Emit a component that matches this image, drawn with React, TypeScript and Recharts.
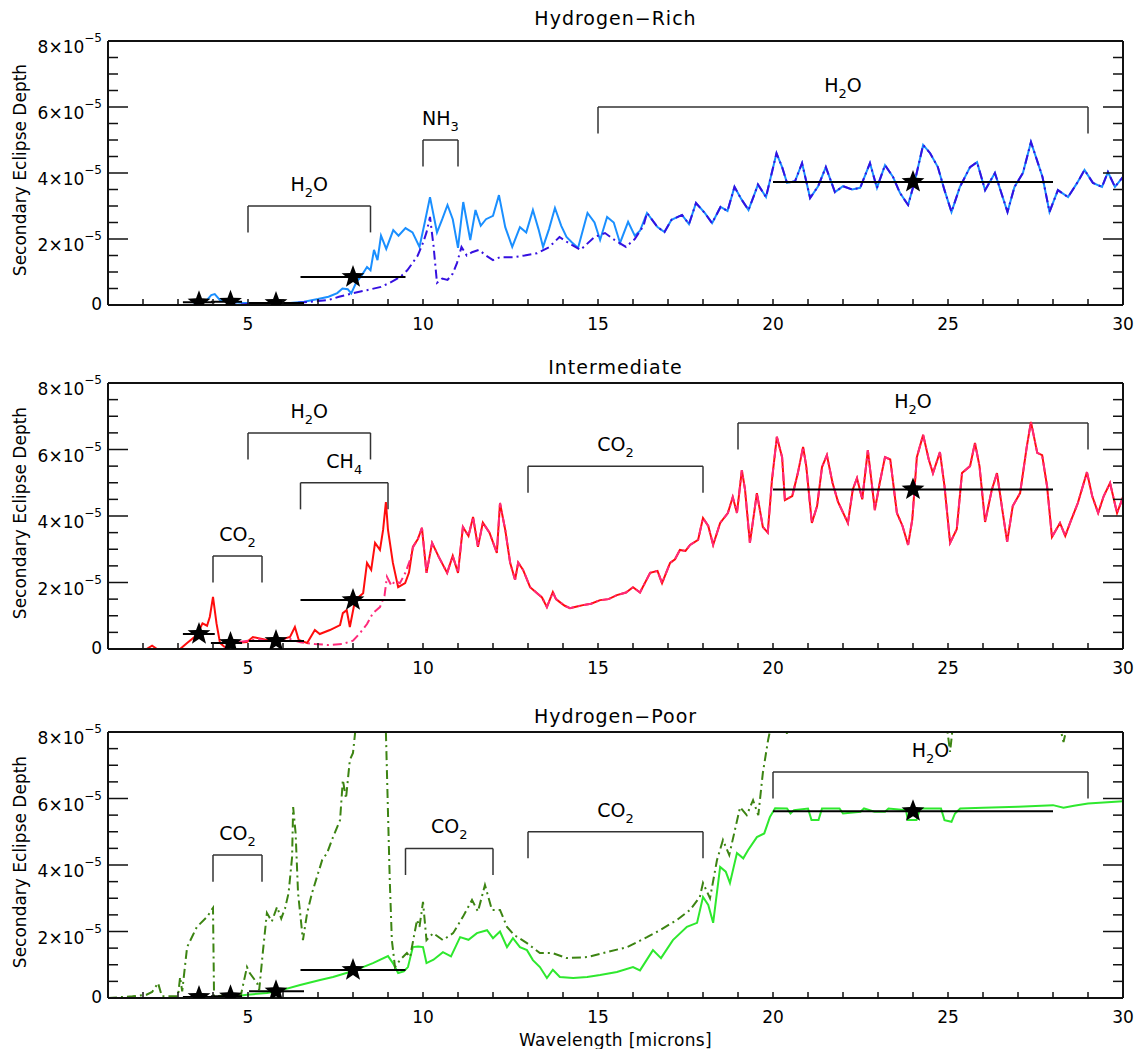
import { ComposedChart, Line, XAxis, YAxis, Scatter, ErrorBar, ReferenceLine } from "recharts";

type Pt = [number, number];
type Band = { name: string; x1: number; x2: number; top: number; bottom: number };

// depths are in units of 1e-5, wavelengths in microns

const richSolid: Pt[] = [
  [1, 0], [3.4, 0], [3.6, 0.04], [3.8, 0.12], [3.95, 0.3], [4.05, 0.33], [4.2, 0.15], [4.4, 0.1], [4.8, 0.07],
  [5.3, 0.05], [5.8, 0.04], [6.2, 0.06], [6.6, 0.1], [7.0, 0.18], [7.3, 0.25], [7.55, 0.36], [7.7, 0.5], [7.85, 0.48],
  [7.95, 0.35], [8.1, 0.7], [8.25, 0.9], [8.4, 1.15], [8.5, 1.05], [8.6, 1.67], [8.7, 1.36], [8.8, 2.1], [8.95, 1.7],
  [9.15, 2.27], [9.3, 2.1], [9.5, 2.33], [9.7, 2.2], [9.9, 1.76], [10.05, 2.5], [10.2, 3.27], [10.4, 2.2], [10.55, 2.6],
  [10.7, 3.03], [10.85, 2.6], [11.0, 1.73], [11.15, 3.12], [11.35, 1.97], [11.5, 2.88], [11.65, 2.4], [11.8, 2.6],
  [12.0, 2.7], [12.17, 3.33], [12.35, 2.36], [12.55, 1.76], [12.77, 2.36], [12.95, 2.2], [13.14, 2.88], [13.3, 2.3],
  [13.43, 1.76], [13.6, 2.3], [13.77, 2.94], [13.95, 2.4], [14.1, 2.06], [14.25, 1.9], [14.43, 1.73], [14.7, 2.79],
  [14.9, 2.5], [15.06, 1.97], [15.26, 2.67], [15.45, 2.5], [15.63, 1.88], [15.86, 2.52], [16.05, 2.1], [16.2, 2.25],
  [16.4, 2.79], [16.7, 2.36], [16.9, 2.21], [17.1, 2.58], [17.4, 2.73], [17.6, 2.45], [17.8, 3.09], [18.05, 2.79],
  [18.26, 2.48], [18.5, 2.97], [18.7, 2.85], [18.9, 3.58], [19.1, 3.2], [19.3, 2.88], [19.45, 3.3], [19.57, 3.65],
  [19.8, 3.27], [20.1, 4.6], [20.26, 4.18], [20.4, 3.7], [20.63, 3.75], [20.83, 4.3], [21.06, 3.24], [21.29, 3.6],
  [21.51, 4.18], [21.77, 3.42], [22.0, 3.6], [22.26, 3.5], [22.49, 3.55], [22.77, 4.3], [22.97, 3.55], [23.2, 4.24],
  [23.43, 3.88], [23.63, 3.39], [23.86, 3.03], [24.06, 3.79], [24.29, 4.85], [24.49, 4.6], [24.71, 4.18], [24.9, 3.48],
  [25.1, 2.82], [25.34, 3.58], [25.63, 4.18], [25.83, 4.33], [26.06, 3.48], [26.34, 4.0], [26.7, 2.82], [26.9, 3.58],
  [27.14, 4.0], [27.37, 4.94], [27.57, 4.3], [27.7, 3.88], [27.9, 2.82], [28.14, 3.48], [28.43, 3.27], [28.69, 3.7],
  [28.9, 4.09], [29.14, 3.7], [29.4, 3.58], [29.57, 4.03], [29.77, 3.58], [30, 3.88],
];

// dash-dot model where it departs from the solid one; after that both coincide
const richDashOwn: Pt[] = [
  [1, 0], [4.5, 0], [5.0, 0.03], [5.8, 0.04], [6.3, 0.06], [6.6, 0.08], [7.0, 0.12], [7.3, 0.15], [7.6, 0.25],
  [8.0, 0.36], [8.4, 0.45], [8.8, 0.55], [9.1, 0.7], [9.35, 0.85], [9.55, 1.05], [9.7, 1.27], [9.85, 1.5], [10.0, 1.88],
  [10.1, 2.2], [10.2, 2.67], [10.3, 1.8], [10.4, 0.67], [10.55, 0.8], [10.7, 0.76], [10.85, 0.95], [10.97, 1.27],
  [11.1, 1.76], [11.25, 1.5], [11.4, 1.6], [11.6, 1.67], [11.8, 1.5], [12.0, 1.36], [12.2, 1.45], [12.43, 1.45],
  [12.6, 1.45], [12.9, 1.5], [13.26, 1.57], [13.6, 1.75], [13.9, 2.06], [14.2, 1.85], [14.5, 1.67], [14.9, 2.06],
  [15.2, 2.18], [15.5, 1.95], [15.8, 1.76], [16.05, 2.0], [16.3, 2.4],
];

const interSolid: Pt[] = [
  [1, 0], [2.1, 0], [2.26, 0.1], [2.4, 0], [3.06, 0], [3.26, 0.18], [3.54, 0.42], [3.7, 0.77], [3.83, 0.7], [3.91, 0.97],
  [4.0, 1.57], [4.1, 0.77], [4.2, 0.18], [4.4, 0.0], [4.6, 0.18], [4.97, 0.21], [5.14, 0.36], [5.54, 0.27], [5.9, 0.27],
  [6.2, 0.36], [6.34, 0.66], [6.45, 0.27], [6.69, 0.18], [6.91, 0.57], [7.05, 0.45], [7.34, 0.57], [7.63, 0.72],
  [7.71, 1.08], [7.82, 1.17], [7.91, 0.66], [8.06, 1.47], [8.29, 1.68], [8.4, 2.59], [8.52, 2.38], [8.63, 3.19],
  [8.77, 2.98], [8.86, 3.58], [8.94, 4.42], [9.0, 3.58], [9.14, 2.59], [9.29, 1.86], [9.49, 1.98], [9.6, 2.3],
  [9.71, 3.07], [9.85, 3.3], [9.97, 3.64], [10.1, 2.29], [10.26, 3.19], [10.45, 2.77], [10.69, 2.29], [10.85, 2.8],
  [11.0, 2.29], [11.14, 3.67], [11.3, 3.4], [11.43, 3.97], [11.57, 3.07], [11.71, 3.8], [11.9, 3.5], [12.11, 2.89],
  [12.2, 4.39], [12.35, 3.58], [12.49, 2.59], [12.63, 2.08], [12.72, 2.6], [12.86, 2.38], [13.06, 1.86], [13.26, 1.68],
  [13.4, 1.55], [13.54, 1.26], [13.71, 1.71], [13.8, 1.5], [13.91, 1.41], [14.05, 1.3], [14.2, 1.23], [14.4, 1.28],
  [14.57, 1.32], [14.8, 1.36], [15.06, 1.47], [15.3, 1.5], [15.54, 1.62], [15.8, 1.7], [16.0, 1.86],
  [16.2, 1.7], [16.49, 2.29], [16.7, 2.35], [16.83, 1.98], [17.06, 2.59], [17.2, 2.7], [17.34, 2.98], [17.5, 2.95],
  [17.63, 3.13], [17.86, 3.28],
  [18.0, 3.94], [18.15, 3.7], [18.29, 3.13], [18.49, 3.79], [18.71, 4.09], [18.85, 4.57], [18.97, 4.09], [19.11, 5.38],
  [19.2, 4.8], [19.34, 3.19], [19.54, 4.69], [19.71, 3.67], [19.85, 3.5], [19.97, 5.08], [20.11, 6.38], [20.26, 5.77],
  [20.34, 4.48], [20.55, 4.6], [20.71, 5.29], [20.86, 6.08], [20.95, 5.5], [21.11, 3.79], [21.26, 4.3], [21.4, 5.47],
  [21.54, 5.83], [21.7, 5.0], [21.86, 4.42], [22.14, 3.79], [22.28, 4.8], [22.4, 5.14], [22.55, 4.5], [22.71, 5.98],
  [22.91, 4.18], [23.05, 5.0], [23.2, 5.77], [23.35, 5.7], [23.54, 4.09], [23.7, 3.7], [23.86, 3.13], [23.98, 3.9],
  [24.11, 5.77], [24.29, 6.44], [24.45, 5.7], [24.57, 5.29], [24.77, 5.92], [24.9, 4.9], [25.06, 3.19], [25.25, 3.6],
  [25.4, 5.29], [25.63, 5.5], [25.77, 6.2], [25.9, 5.5], [26.06, 3.82], [26.25, 4.78], [26.4, 5.29], [26.55, 4.2],
  [26.69, 3.22], [26.85, 4.3], [27.06, 4.69], [27.25, 6.08], [27.37, 6.83], [27.55, 5.9], [27.69, 5.83], [27.83, 4.9],
  [27.97, 3.37], [28.2, 3.79], [28.35, 3.4], [28.49, 3.8], [28.71, 4.39], [28.97, 5.32], [29.12, 4.6], [29.29, 4.09],
  [29.45, 4.6], [29.63, 4.99], [29.83, 4.09], [30, 4.57],
];

const interDashOwn: Pt[] = [
  [1, 0], [4.3, 0], [4.45, 0.1], [4.7, 0.2], [5.0, 0.25], [5.3, 0.3], [5.6, 0.22], [5.9, 0.3], [6.2, 0.3], [6.5, 0.2],
  [6.9, 0.15], [7.3, 0.12], [7.7, 0.15], [8.0, 0.25], [8.2, 0.48], [8.4, 0.75], [8.57, 1.08], [8.77, 1.26], [8.9, 1.6],
  [8.97, 2.17], [9.1, 1.9], [9.2, 2.05], [9.34, 1.98], [9.5, 2.3], [9.63, 2.68], [9.72, 3.07],
];

const poorSolid: Pt[] = [
  [1, 0], [4.0, 0], [4.5, 0.03], [4.97, 0.1], [5.54, 0.15], [5.83, 0.2], [6.49, 0.39], [7.06, 0.54], [7.43, 0.63],
  [8.0, 0.81], [8.57, 1.05], [9.0, 1.26], [9.14, 1.05], [9.29, 0.75], [9.45, 0.8], [9.57, 0.93], [9.71, 1.53],
  [9.86, 1.55], [10.0, 1.53], [10.1, 1.05], [10.3, 1.15], [10.57, 1.38], [10.8, 1.25], [11.06, 1.83], [11.3, 1.75],
  [11.54, 1.95], [11.83, 2.04], [12.0, 1.8], [12.2, 2.0], [12.4, 1.53], [12.57, 1.8], [12.77, 1.53], [12.97, 1.44],
  [13.14, 1.14], [13.34, 0.93], [13.54, 0.6], [13.71, 0.85], [13.91, 0.63], [14.29, 0.6], [14.69, 0.63], [15.06, 0.69],
  [15.54, 0.78], [16.0, 0.93], [16.2, 0.83], [16.57, 1.44], [16.8, 1.2], [17.14, 1.74], [17.54, 2.14], [17.83, 2.26],
  [18.0, 3.04], [18.15, 2.8], [18.29, 2.26], [18.49, 3.94], [18.65, 3.8], [18.77, 3.46], [18.97, 4.36], [19.15, 4.2],
  [19.29, 4.45], [19.54, 4.84], [19.75, 4.95], [19.91, 5.44], [20.06, 5.71], [20.4, 5.7], [20.5, 5.55], [20.6, 5.65],
  [21.0, 5.7], [21.1, 5.35], [21.3, 5.35], [21.4, 5.7], [21.9, 5.7], [22.0, 5.55], [22.5, 5.6], [22.6, 5.7],
  [22.9, 5.6], [23.2, 5.6], [23.3, 5.7], [23.8, 5.65], [23.85, 5.35], [24.1, 5.35], [24.2, 5.7], [24.8, 5.7],
  [24.9, 5.35], [25.1, 5.3], [25.2, 5.55], [25.35, 5.7], [26.0, 5.72], [27.0, 5.75], [28.0, 5.8], [28.3, 5.72],
  [28.6, 5.78], [29.0, 5.85], [30, 5.92],
];

const poorDash: Pt[] = [
  [1, 0], [1.7, 0.05], [2.1, 0.1], [2.26, 0.18], [2.43, 0.45], [2.54, 0.05], [3.0, 0.05], [3.06, 0.63], [3.12, 0.2],
  [3.26, 1.53], [3.54, 2.14], [3.83, 2.44], [4.0, 2.71], [4.03, 0.05], [4.5, 0.08], [4.8, 0.1], [4.97, 0.93],
  [5.05, 0.75], [5.26, 0.45], [5.32, 0.24], [5.43, 1.44], [5.54, 2.56], [5.68, 2.3], [5.83, 2.74], [5.95, 2.39],
  [6.06, 2.7], [6.16, 3.16], [6.26, 4.24], [6.29, 5.74], [6.36, 4.96], [6.43, 3.16], [6.57, 1.74], [6.69, 2.56],
  [6.83, 3.16], [6.97, 3.64], [7.12, 4.15], [7.26, 4.36], [7.43, 4.84], [7.63, 5.35], [7.71, 6.56], [7.8, 6.0],
  [7.91, 7.16], [8.0, 7.37], [8.06, 7.97], [8.2, 8.8], [8.5, 9.5], [8.8, 9.0], [8.94, 8.0], [9.0, 5.56], [9.05, 3.55],
  [9.11, 1.74], [9.2, 0.93], [9.34, 1.14], [9.54, 1.35], [9.63, 1.23], [9.83, 2.35], [9.9, 2.14], [10.0, 2.89],
  [10.1, 1.74], [10.29, 1.95], [10.57, 1.74], [10.86, 1.95], [11.14, 2.44], [11.4, 2.95], [11.57, 2.6], [11.77, 3.4],
  [11.97, 2.65], [12.2, 2.65], [12.4, 2.14], [12.6, 1.9], [12.97, 1.65], [13.34, 1.35], [13.71, 1.35], [14.1, 1.2],
  [14.69, 1.23], [15.26, 1.38], [15.83, 1.53], [16.4, 1.83], [16.77, 2.04], [17.26, 2.35], [17.63, 2.65],
  [17.91, 3.04], [18.0, 3.46], [18.2, 3.0], [18.4, 4.15], [18.57, 4.75], [18.75, 4.3], [19.06, 5.74], [19.25, 5.5],
  [19.43, 5.95], [19.58, 5.5], [19.71, 6.77], [19.86, 7.76], [19.97, 8.3], [20.1, 9.0], [20.4, 7.95], [20.6, 9.2],
  [21.5, 9.8], [22.5, 10.2], [23.5, 9.8], [24.5, 9.0], [24.95, 8.3], [25.06, 7.4], [25.15, 8.3], [26, 9.5],
  [27, 9.6], [28.1, 8.6], [28.3, 7.7], [28.5, 8.6], [29.5, 9.5], [30, 9.8],
];

// photometric bands: centre and edges
const starWave = [3.6, 4.5, 5.8, 8.0, 24];
const bandLow = [3.14, 3.94, 5.03, 6.5, 20];
const bandHigh = [4.05, 4.83, 6.6, 9.5, 28];
const richStarY = [0.08, 0.1, 0.06, 0.85, 3.73];
const interStarY = [0.45, 0.18, 0.24, 1.47, 4.8];
const poorStarY = [0.03, 0.05, 0.2, 0.84, 5.62];

const richBands: Band[] = [
  { name: "H2O", x1: 5, x2: 8.5, top: 3.0, bottom: 2.2 },
  { name: "NH3", x1: 10, x2: 11, top: 5.0, bottom: 4.2 },
  { name: "H2O", x1: 15, x2: 29, top: 6.0, bottom: 5.2 },
];
const interBands: Band[] = [
  { name: "CO2", x1: 4, x2: 5.4, top: 2.8, bottom: 2.0 },
  { name: "H2O", x1: 5, x2: 8.5, top: 6.5, bottom: 5.7 },
  { name: "CH4", x1: 6.5, x2: 9, top: 5.0, bottom: 4.2 },
  { name: "CO2", x1: 13, x2: 18, top: 5.5, bottom: 4.7 },
  { name: "H2O", x1: 19, x2: 29, top: 6.8, bottom: 6.0 },
];
const poorBands: Band[] = [
  { name: "CO2", x1: 4, x2: 5.4, top: 4.3, bottom: 3.5 },
  { name: "CO2", x1: 9.5, x2: 12, top: 4.5, bottom: 3.7 },
  { name: "CO2", x1: 13, x2: 18, top: 5.0, bottom: 4.2 },
  { name: "H2O", x1: 20, x2: 29, top: 6.8, bottom: 6.0 },
];

const xTicks = [2, 3, 4, 5, 6, 7, 8, 9, 10, 11, 12, 13, 14, 15, 16, 17, 18, 19, 20, 21, 22, 23, 24, 25, 26, 27, 28, 29, 30];
const yTicks = [0, 0.5, 1, 1.5, 2, 2.5, 3, 3.5, 4, 4.5, 5, 5.5, 6, 6.5, 7, 7.5, 8];

const rows = (pts: Pt[]) => pts.map(([x, y]) => ({ x, y }));
const withTail = (own: Pt[], full: Pt[]) => {
  const last = own[own.length - 1][0];
  return [...own, ...full.filter((p) => p[0] > last)];
};
const starRows = (ys: number[]) =>
  starWave.map((x, i) => ({ x, y: ys[i], xErr: [x - bandLow[i], bandHigh[i] - x] }));

const panels = [
  {
    title: "Hydrogen−Rich", top: 0, height: 345, mTop: 41, mBottom: 10, titleTop: 9,
    solid: richSolid, dash: withTail(richDashOwn, richSolid),
    solidColor: "#1a8fff", dashColor: "#3510e0", stars: starRows(richStarY), bands: richBands,
  },
  {
    title: "Intermediate", top: 345, height: 345, mTop: 38, mBottom: 11, titleTop: 358,
    solid: interSolid, dash: withTail(interDashOwn, interSolid),
    solidColor: "#ff0d0d", dashColor: "#ff2a7a", stars: starRows(interStarY), bands: interBands,
  },
  {
    title: "Hydrogen−Poor", top: 690, height: 359, mTop: 42, mBottom: 21, titleTop: 707,
    solid: poorSolid, dash: poorDash,
    solidColor: "#2ee82e", dashColor: "#3c8412", stars: starRows(poorStarY), bands: poorBands,
  },
];

const AXIS = "#111";

const LeftTick = (props: any) => {
  const { x, y, payload } = props;
  const v = payload.value;
  const major = v % 2 === 0;
  return (
    <g>
      <line x1={x} x2={x + (major ? 20 : 10)} y1={y} y2={y} stroke={AXIS} strokeWidth={1.5} />
      {major && v === 0 && (
        <text x={x - 6} y={y + 5} textAnchor="end" fontSize={17} fill="#000">0</text>
      )}
      {major && v !== 0 && (
        <text x={x - 6} y={y + 12} textAnchor="end" fontSize={17} fill="#000">
          <tspan>{v}×10</tspan>
          <tspan dy={-11} fontSize={12}>−5</tspan>
        </text>
      )}
    </g>
  );
};

const RightTick = (props: any) => {
  const { x, y, payload } = props;
  const major = payload.value % 2 === 0;
  return <line x1={x} x2={x - (major ? 20 : 10)} y1={y} y2={y} stroke={AXIS} strokeWidth={1.5} />;
};

const BottomTick = (props: any) => {
  const { x, y, payload } = props;
  const v = payload.value;
  return (
    <g>
      <line x1={x} x2={x} y1={y} y2={y - 6} stroke={AXIS} strokeWidth={1.5} />
      {v % 5 === 0 && (
        <text x={x} y={y + 25} textAnchor="middle" fontSize={17} fill="#000">{v}</text>
      )}
    </g>
  );
};

const TopTick = (props: any) => {
  const { x, y } = props;
  return <line x1={x} x2={x} y1={y} y2={y + 6} stroke={AXIS} strokeWidth={1.5} />;
};

const YTitle = (props: any) => {
  const { viewBox } = props;
  const cx = viewBox.x + 26;
  const cy = viewBox.y + viewBox.height / 2 - 3;
  return (
    <text x={cx} y={cy} transform={`rotate(-90 ${cx} ${cy})`} textAnchor="middle" fontSize={17} fill="#000">
      Secondary Eclipse Depth
    </text>
  );
};

const bandLabel = (name: string) => (props: any) => {
  const { viewBox } = props;
  const cx = viewBox.x + viewBox.width / 2;
  const chars = name.split("");
  return (
    <text x={cx} y={viewBox.y - 15} textAnchor="middle" fontSize={19} fill="#000">
      {chars.map((ch, i) => {
        const sub = /\d/.test(ch);
        const prevSub = i > 0 && /\d/.test(chars[i - 1]);
        return sub ? (
          <tspan key={i} dy={6} fontSize={13}>{ch}</tspan>
        ) : (
          <tspan key={i} dy={prevSub ? -6 : 0}>{ch}</tspan>
        );
      })}
    </text>
  );
};

const StarShape = (props: any) => {
  const { cx, cy } = props;
  const pts: string[] = [];
  for (let k = 0; k < 10; k++) {
    const r = k % 2 === 0 ? 12 : 5;
    const a = -Math.PI / 2 + (k * Math.PI) / 5;
    pts.push(`${cx + r * Math.cos(a)},${cy + r * Math.sin(a)}`);
  }
  return <polygon points={pts.join(" ")} fill="#000" />;
};

function Panel({ p }: { p: (typeof panels)[number] }) {
  const lineStyle = { stroke: "#333", strokeWidth: 1.5 };
  return (
    <div style={{ position: "absolute", left: 0, top: p.top, width: 1135, height: p.height }}>
      <ComposedChart
        width={1135}
        height={p.height}
        margin={{ top: p.mTop - 2, right: 10, bottom: p.mBottom, left: 0 }}
      >
        <XAxis
          dataKey="x"
          type="number"
          domain={[1, 30]}
          allowDataOverflow
          ticks={xTicks}
          interval={0}
          tickSize={0}
          tickMargin={0}
          tickLine={false}
          tick={<BottomTick />}
          axisLine={{ stroke: AXIS, strokeWidth: 2 }}
          height={30}
        />
        <XAxis
          xAxisId="t"
          orientation="top"
          type="number"
          domain={[1, 30]}
          allowDataOverflow
          ticks={xTicks}
          interval={0}
          tickSize={0}
          tickMargin={0}
          tickLine={false}
          tick={<TopTick />}
          axisLine={{ stroke: AXIS, strokeWidth: 2 }}
          height={2}
        />
        <YAxis
          dataKey="y"
          type="number"
          domain={[0, 8]}
          allowDataOverflow
          ticks={yTicks}
          interval={0}
          tickSize={0}
          tickMargin={0}
          tickLine={false}
          tick={<LeftTick />}
          axisLine={{ stroke: AXIS, strokeWidth: 2 }}
          width={108}
          label={<YTitle />}
        />
        <YAxis
          yAxisId="r"
          orientation="right"
          type="number"
          domain={[0, 8]}
          allowDataOverflow
          ticks={yTicks}
          interval={0}
          tickSize={0}
          tickMargin={0}
          tickLine={false}
          tick={<RightTick />}
          axisLine={{ stroke: AXIS, strokeWidth: 2 }}
          width={2}
        />
        {p.bands.flatMap((b, i) => [
          <ReferenceLine
            key={`t${i}`}
            segment={[{ x: b.x1, y: b.top }, { x: b.x2, y: b.top }]}
            {...lineStyle}
            label={bandLabel(b.name)}
          />,
          <ReferenceLine key={`l${i}`} segment={[{ x: b.x1, y: b.top }, { x: b.x1, y: b.bottom }]} {...lineStyle} />,
          <ReferenceLine key={`r${i}`} segment={[{ x: b.x2, y: b.top }, { x: b.x2, y: b.bottom }]} {...lineStyle} />,
        ])}
        <Line
          data={rows(p.solid)}
          dataKey="y"
          type="linear"
          stroke={p.solidColor}
          strokeWidth={2}
          dot={false}
          isAnimationActive={false}
        />
        <Line
          data={rows(p.dash)}
          dataKey="y"
          type="linear"
          stroke={p.dashColor}
          strokeWidth={2}
          strokeDasharray="9 4 2 4"
          dot={false}
          isAnimationActive={false}
        />
        <Scatter data={p.stars} dataKey="y" shape={StarShape} isAnimationActive={false}>
          <ErrorBar dataKey="xErr" direction="x" width={0} stroke="#000" strokeWidth={2} isAnimationActive={false} />
        </Scatter>
      </ComposedChart>
    </div>
  );
}

const titleStyle = {
  position: "absolute" as const,
  left: 108,
  width: 1015,
  textAlign: "center" as const,
  fontSize: 19,
  lineHeight: "19px",
  letterSpacing: 1,
  color: "#000",
};

export default function App() {
  return (
    <div
      style={{
        position: "absolute",
        left: 0,
        top: 0,
        width: 1135,
        height: 1049,
        overflow: "hidden",
        background: "#fff",
        fontFamily: '"DejaVu Sans", sans-serif',
      }}
    >
      {panels.map((p) => (
        <Panel key={p.title} p={p} />
      ))}
      {panels.map((p) => (
        <div key={`title-${p.title}`} style={{ ...titleStyle, top: p.titleTop }}>
          {p.title}
        </div>
      ))}
      <div style={{ ...titleStyle, top: 1032, fontSize: 17, lineHeight: "17px", letterSpacing: 0.3 }}>
        Wavelength [microns]
      </div>
    </div>
  );
}
